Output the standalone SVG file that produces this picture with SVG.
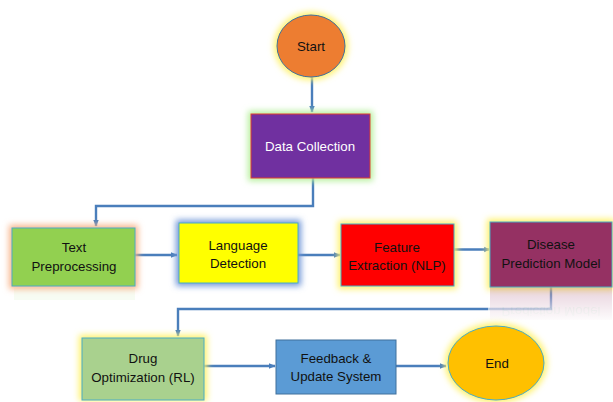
<svg xmlns="http://www.w3.org/2000/svg" width="613" height="402" viewBox="0 0 613 402">
  <defs>
    <filter id="glow" x="-30%" y="-30%" width="160%" height="160%">
      <feGaussianBlur stdDeviation="3"/>
    </filter>
    <linearGradient id="fade" x1="0" y1="0" x2="0" y2="1">
      <stop offset="0" stop-color="#fff" stop-opacity="0"/>
      <stop offset="1" stop-color="#fff" stop-opacity="1"/>
    </linearGradient>
    <marker id="arr" viewBox="0 0 10 10" refX="9" refY="5" markerWidth="3" markerHeight="3" orient="auto">
      <path d="M0,1 L10,5 L0,9 Z" fill="#4A7EBB"/>
    </marker>
    <marker id="arrBig" viewBox="0 0 10 10" refX="9" refY="5" markerWidth="2.2" markerHeight="2.6" orient="auto">
      <path d="M0,0 L10,5 L0,10 Z" fill="#4A7EBB"/>
    </marker>
  </defs>
  <style>
    .lbl { font-family: "Liberation Sans", Arial, sans-serif; font-size: 13.3px; text-anchor: middle; fill: #111; }
    .wht { fill: #fff; }
    .edge { fill: none; stroke: #4A7EBB; stroke-width: 2.4; }
    .box { stroke: #4BACC6; stroke-width: 1; }
    .halo { filter: url(#glow); }
  </style>

  <rect width="613" height="402" fill="#fff"/>

  <!-- connectors -->
  <g id="connectors">
    <path class="edge" d="M312,77 V112" marker-end="url(#arr)"/>
    <path class="edge" d="M313,178 V206 H96 V226" marker-end="url(#arr)"/>
    <path class="edge" d="M135,255 H177" marker-end="url(#arr)"/>
    <path class="edge" d="M298,255 H340" marker-end="url(#arr)"/>
    <path class="edge" d="M454,249.5 H489" stroke-width="5" marker-end="url(#arrBig)"/>
    <path class="edge" d="M551,287 V309 H178 V336" marker-end="url(#arr)"/>
    <path class="edge" d="M204,366 H275" marker-end="url(#arr)"/>
    <path class="edge" d="M396,366 H446" marker-end="url(#arr)"/>
  </g>

  <!-- Start -->
  <g id="start">
    <ellipse class="halo" cx="311" cy="46" rx="37" ry="34" fill="#FFF26A"/>
    <ellipse cx="311" cy="46" rx="34" ry="31" fill="#ED7D31" stroke="#41719C" stroke-width="1"/>
    <text class="lbl" x="311" y="51" font-size="14">Start</text>
  </g>

  <!-- Data Collection -->
  <g id="data-collection">
    <rect class="halo" x="248" y="111" width="125" height="70" fill="#B6F09C"/>
    <rect x="251" y="114" width="119" height="64" fill="#7030A0" stroke="#E03C31" stroke-width="1"/>
    <text class="lbl wht" x="310" y="151">Data Collection</text>
  </g>

  <!-- Text Preprocessing -->
  <g id="text-preprocessing">
    <rect x="14" y="288" width="121" height="12" fill="#92D050" opacity="0.07"/>
    <rect class="halo" x="9" y="225" width="129" height="64" fill="#F8B48A"/>
    <rect x="12" y="228" width="123" height="58" class="box" fill="#92D050"/>
    <text class="lbl" x="74" y="252">Text</text>
    <text class="lbl" x="74" y="271">Preprocessing</text>
  </g>

  <!-- Language Detection -->
  <g id="language-detection">
    <rect class="halo" x="176" y="220" width="125" height="66" fill="#6F95D8"/>
    <rect x="179" y="223" width="119" height="60" class="box" fill="#FFFF00"/>
    <text class="lbl" x="238" y="250">Language</text>
    <text class="lbl" x="238" y="268">Detection</text>
  </g>

  <!-- Feature Extraction -->
  <g id="feature-extraction">
    <rect class="halo" x="338" y="221" width="119" height="68" fill="#FFF26A"/>
    <rect x="341" y="224" width="113" height="62" class="box" fill="#FF0000"/>
    <text class="lbl" x="397" y="252">Feature</text>
    <text class="lbl" x="397" y="270">Extraction (NLP)</text>
  </g>

  <!-- Disease Prediction Model -->
  <g id="disease-prediction">
    <rect class="halo" x="487" y="219" width="128" height="71" fill="#FFF26A"/>
    <!-- mirrored reflection under the box -->
    <g opacity="0.22" transform="translate(0,575) scale(1,-1)">
      <rect x="490" y="255" width="122" height="33" fill="#953163"/>
      <text class="lbl" x="551" y="268">Prediction Model</text>
    </g>
    <rect x="488" y="287" width="125" height="36" fill="url(#fade)"/>
    <rect x="490" y="222" width="122" height="65" class="box" fill="#953163"/>
    <text class="lbl" x="551" y="249">Disease</text>
    <text class="lbl" x="551" y="268">Prediction Model</text>
  </g>

  <!-- Drug Optimization -->
  <g id="drug-optimization">
    <rect class="halo" x="79" y="335" width="128" height="66" fill="#FFF26A"/>
    <rect x="82" y="338" width="122" height="62" class="box" fill="#A9D18E"/>
    <text class="lbl" x="143" y="363">Drug</text>
    <text class="lbl" x="143" y="382">Optimization (RL)</text>
  </g>

  <!-- Feedback & Update System -->
  <g id="feedback-update">
    <rect x="276" y="340" width="120" height="54" fill="#5B9BD5" stroke="#41719C" stroke-width="1"/>
    <text class="lbl" x="336" y="363">Feedback &amp;</text>
    <text class="lbl" x="336" y="381">Update System</text>
  </g>

  <!-- End -->
  <g id="end">
    <ellipse class="halo" cx="496" cy="363" rx="51" ry="40" fill="#FFF26A"/>
    <ellipse cx="496" cy="363" rx="48" ry="37" fill="#FFC000" stroke="#4BACC6" stroke-width="1"/>
    <text class="lbl" x="497" y="368" font-size="14">End</text>
  </g>
</svg>
